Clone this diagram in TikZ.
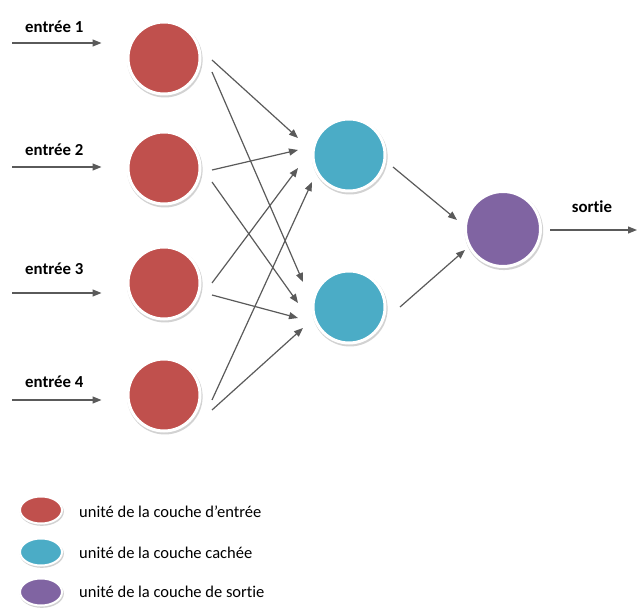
\documentclass[tikz,border=0pt]{standalone}
\usepackage{fontspec}
\setmainfont{Carlito}[RawFeature=-liga]
\usetikzlibrary{arrows.meta,calc,shadows,shapes.geometric}
\definecolor{inred}{HTML}{C0504D}
\definecolor{hidcyan}{HTML}{4BACC6}
\definecolor{outpurple}{HTML}{8064A2}
\definecolor{arrgray}{HTML}{5A5A5A}
\tikzset{
  unit/.style={circle, minimum size=72pt, inner sep=0pt, line width=3pt, draw=white, fill=#1,
     drop shadow={shadow xshift=0.8pt, shadow yshift=-1.6pt, shadow scale=1.05, fill=black!35, opacity=0.5}},
  legunit/.style={ellipse, minimum width=42pt, minimum height=27pt, inner sep=0pt, line width=2pt, draw=white, fill=#1,
     drop shadow={shadow xshift=0.8pt, shadow yshift=-1.6pt, shadow scale=1.05, fill=black!35, opacity=0.5}},
  conn/.style={draw=arrgray, line width=1.2pt, -{Triangle[length=9pt,width=7pt]}},
  lab/.style={font=\fontsize{16.8}{18}\selectfont\bfseries, inner sep=0pt, anchor=west},
  leg/.style={font=\fontsize{16.5}{18}\selectfont, inner sep=0pt, anchor=west},
}
\begin{document}
\begin{tikzpicture}[x=1pt,y=-1pt]
\useasboundingbox (0,0) rectangle (638,612);
% input units
\node[unit=inred] (i1) at (164,58) {};
\node[unit=inred] (i2) at (164,168) {};
\node[unit=inred] (i3) at (164,283) {};
\node[unit=inred] (i4) at (164,395) {};
% hidden units
\node[unit=hidcyan] (h1) at (349,155) {};
\node[unit=hidcyan] (h2) at (349,307) {};
% output unit
\node[unit=outpurple, minimum size=75pt] (o) at (503,229) {};
% input labels and arrows
\node[lab] (l1) at (25,27) {entrée 1};
\node[lab] (l2) at (25,150) {entrée 2};
\node[lab] (l3) at (25,269) {entrée 3};
\node[lab] (l4) at (25,382) {entrée 4};
\coordinate (a1) at (12,43);
\coordinate (a2) at (12,167);
\coordinate (a3) at (12,293);
\coordinate (a4) at (12,400);
\draw[conn] (a1) -- ($(a1 -| i1.west)+(-25,0)$);
\draw[conn] (a2) -- ($(a2 -| i2.west)+(-25,0)$);
\draw[conn] (a3) -- ($(a3 -| i3.west)+(-25,0)$);
\draw[conn] (a4) -- ($(a4 -| i4.west)+(-25,0)$);
% input -> hidden
\draw[conn] ($(i1)+(48,2)$)  -- ($(h1)+(-51,-17)$);
\draw[conn] ($(i1)+(48,14)$) -- ($(h2)+(-46,-25)$);
\draw[conn] ($(i2)+(48,2)$)  -- ($(h1)+(-51,-5)$);
\draw[conn] ($(i2)+(48,14)$) -- ($(h2)+(-51,-4)$);
\draw[conn] ($(i3)+(48,0)$)  -- ($(h1)+(-51,13)$);
\draw[conn] ($(i3)+(48,12)$) -- ($(h2)+(-51,11)$);
\draw[conn] ($(i4)+(48,5)$)  -- ($(h1)+(-37,27)$);
\draw[conn] ($(i4)+(48,15)$) -- ($(h2)+(-46,21)$);
% hidden -> output
\draw[conn] ($(h1)+(44,12)$) -- ($(o)+(-46,-9)$);
\draw[conn] ($(h2)+(51,0)$)  -- ($(o)+(-38,21)$);
% output arrow
\node[lab, anchor=center] (ls) at (592,207) {sortie};
\coordinate (oe) at (637,230);
\draw[conn] ($(o)+(47,1)$) -- (oe);
% legend
\node[legunit=inred] (k1) at (41,510) {};
\node[legunit=hidcyan] (k2) at (41,552) {};
\node[legunit=outpurple] (k3) at (41,592) {};
\node[leg] (t1) at (79,512) {unité de la couche d’entrée};
\node[leg] (t2) at (79,553) {unité de la couche cachée};
\node[leg] (t3) at (79,592) {unité de la couche de sortie};
\end{tikzpicture}
\end{document}
